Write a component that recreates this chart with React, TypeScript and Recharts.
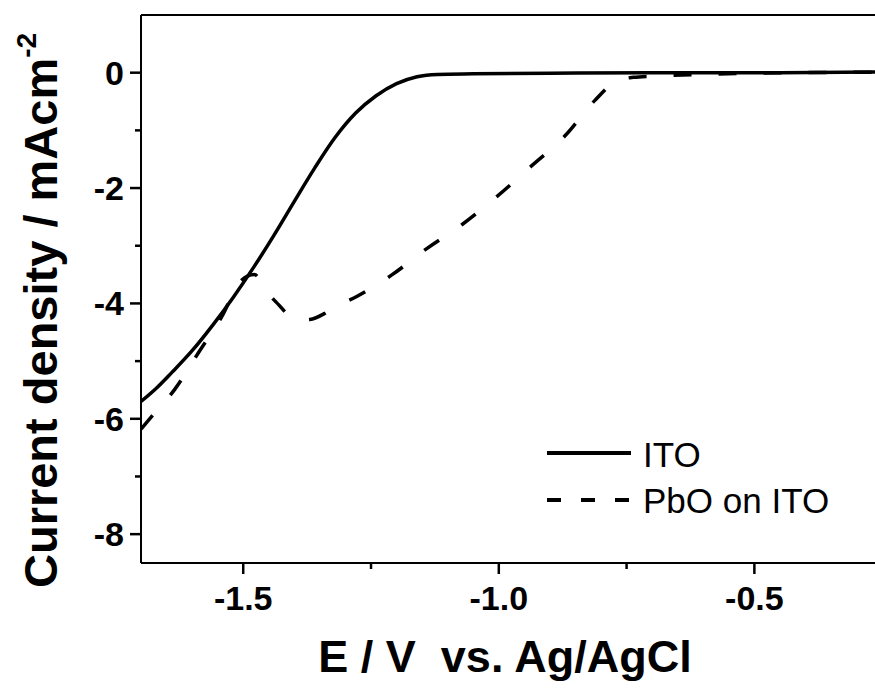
import { LineChart, Line, XAxis, YAxis, Legend, ReferenceLine } from 'recharts'

// ITO electrode (solid)
const itoE = [-1.7, -1.67, -1.64, -1.6, -1.56, -1.52, -1.48, -1.44, -1.4, -1.36, -1.32, -1.28, -1.24, -1.2, -1.16, -1.12, -1.05, -0.9, -0.7, -0.5, -0.26]
const itoJ = [-5.7, -5.47, -5.2, -4.82, -4.38, -3.9, -3.38, -2.82, -2.23, -1.65, -1.12, -0.7, -0.4, -0.19, -0.07, -0.03, -0.02, -0.01, 0, 0, 0.01]

// PbO on ITO (dashed)
const pboE = [-1.7, -1.679, -1.634, -1.588, -1.542, -1.506, -1.478, -1.465, -1.451, -1.43, -1.412, -1.389, -1.37, -1.34, -1.324, -1.278, -1.21, -1.141, -1.073, -1.004, -0.939, -0.87, -0.812, -0.769, -0.737, -0.7, -0.6, -0.5, -0.26]
const pboJ = [-6.18, -5.96, -5.49, -4.86, -4.23, -3.62, -3.5, -3.62, -3.82, -4.03, -4.2, -4.29, -4.28, -4.17, -4.08, -3.88, -3.51, -3.05, -2.64, -2.15, -1.64, -1.09, -0.48, -0.14, -0.08, -0.06, -0.03, -0.01, 0.01]

const xTicks = [-1.5, -1.25, -1.0, -0.75, -0.5]
const xMajor = [-1.5, -1.0, -0.5]
const yTicks = [-8, -7, -6, -5, -4, -3, -2, -1, 0]
const yMajor = [-8, -6, -4, -2, 0]

const itoData = itoE.map((E, i) => ({ E, j: itoJ[i] }))
const pboData = pboE.map((E, i) => ({ E, j: pboJ[i] }))

const FONT = '"Liberation Sans", Arial, sans-serif'
const X_DOMAIN = [-1.7, -0.264]
const Y_DOMAIN = [-8.5, 1]

// eslint-disable-next-line @typescript-eslint/no-explicit-any
function YTick({ x, y, payload }: any) {
  const ax = Number(x)
  const ay = Number(y)
  const major = yMajor.includes(payload.value)
  return (
    <g>
      <line x1={major ? ax - 11 : ax - 6} x2={ax} y1={ay} y2={ay} stroke="#000" strokeWidth={2.5} />
      {major && (
        <text x={ax - 17} y={ay + 12} textAnchor="end" fontFamily={FONT} fontWeight="bold" fontSize={34} fill="#000">
          {payload.value}
        </text>
      )}
    </g>
  )
}

// eslint-disable-next-line @typescript-eslint/no-explicit-any
function XTick({ x, y, payload }: any) {
  const ax = Number(x)
  const ay = Number(y)
  const major = xMajor.includes(payload.value)
  return (
    <g>
      <line x1={ax} x2={ax} y1={ay} y2={major ? ay + 11 : ay + 6} stroke="#000" strokeWidth={2.5} />
      {major && (
        <text x={ax} y={ay + 47} textAnchor="middle" fontFamily={FONT} fontWeight="bold" fontSize={34} fill="#000">
          {payload.value.toFixed(1)}
        </text>
      )}
    </g>
  )
}

// eslint-disable-next-line @typescript-eslint/no-explicit-any
function LegendBox({ payload }: any) {
  return (
    <svg width={330} height={110} style={{ display: 'block' }}>
      {(payload || []).map((p: any, i: number) => (
        <g key={p.value}>
          <line
            x1={7}
            x2={91}
            y1={33 + i * 47}
            y2={33 + i * 47}
            stroke="#000"
            strokeWidth={4}
            strokeDasharray={i === 1 ? '14 20' : undefined}
          />
          <text x={103} y={47 + i * 46} fontFamily={FONT} fontSize={35} fill="#000">
            {p.value}
          </text>
        </g>
      ))}
    </svg>
  )
}

// eslint-disable-next-line @typescript-eslint/no-explicit-any
function XTitle({ viewBox }: any) {
  return (
    <text
      x={viewBox.x + viewBox.width / 2 - 3}
      y={672}
      textAnchor="middle"
      fontFamily={FONT}
      fontWeight="bold"
      fontSize={45}
      fill="#000"
      style={{ whiteSpace: 'pre' }}
    >
      {'E / V  vs. Ag/AgCl'}
    </text>
  )
}

function YTitle() {
  return (
    <text
      transform="rotate(-90, 57, 588)"
      x={57}
      y={588}
      textAnchor="start"
      fontFamily={FONT}
      fontWeight="bold"
      fontSize={47}
      fill="#000"
    >
      Current density / mAcm
      <tspan fontSize={28} dy={-21}>-2</tspan>
    </text>
  )
}

export default function App() {
  return (
    <div style={{ position: 'absolute', left: 0, top: 0, background: '#fff' }}>
      <LineChart width={875} height={695} margin={{ top: 15, right: 0, bottom: 0, left: 0 }}>
        <XAxis
          dataKey="E"
          type="number"
          domain={X_DOMAIN}
          allowDataOverflow
          ticks={xTicks}
          interval={0}
          height={132}
          tickSize={0}
          tickMargin={0}
          tickLine={false}
          tick={<XTick />}
          axisLine={{ stroke: '#000', strokeWidth: 2 }}
          label={{ content: <XTitle /> }}
        />
        <YAxis
          dataKey="j"
          type="number"
          domain={Y_DOMAIN}
          allowDataOverflow
          ticks={yTicks}
          interval={0}
          width={141}
          tickSize={0}
          tickMargin={0}
          tickLine={false}
          tick={<YTick />}
          axisLine={{ stroke: '#000', strokeWidth: 2 }}
          label={{ content: <YTitle /> }}
        />
        <ReferenceLine y={Y_DOMAIN[1]} stroke="#000" strokeWidth={2} />
        <Legend
          layout="vertical"
          align="center"
          verticalAlign="middle"
          wrapperStyle={{ position: 'absolute', left: 540, top: 420, width: 330 }}
          content={<LegendBox />}
        />
        <Line
          data={itoData}
          dataKey="j"
          name="ITO"
          type="monotone"
          stroke="#000"
          strokeWidth={3.5}
          dot={false}
          activeDot={false}
          isAnimationActive={false}
        />
        <Line
          data={pboData}
          dataKey="j"
          name="PbO on ITO"
          type="monotone"
          stroke="#000"
          strokeWidth={3.5}
          strokeDasharray="18 27"
          dot={false}
          activeDot={false}
          isAnimationActive={false}
        />
      </LineChart>
    </div>
  )
}
